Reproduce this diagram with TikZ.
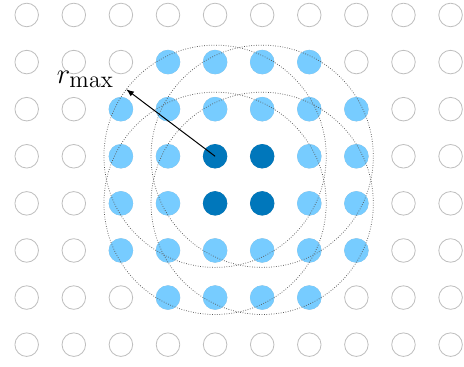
\documentclass[tikz,border=0pt]{standalone}
\usepackage{amsmath}
\usepackage{amssymb}
\usepackage{tikz}
\usepackage{xcolor}
\usetikzlibrary{arrows}

\definecolor{darkpt}{HTML}{0077BB}
\definecolor{lightpt}{HTML}{77CCFF}

\begin{document}
\begin{tikzpicture}[>=latex,
    pt/.style={circle, minimum size=0.5cm, inner sep=0pt, line width=0.5pt},
    emptypt/.style={pt, draw=gray!50},
    nearpt/.style={pt, fill=lightpt, draw=lightpt},
    centerpt/.style={pt, fill=darkpt, draw=darkpt},
    reach/.style={densely dotted, gray!70!black, line width=0.45pt}]

\useasboundingbox (-0.567,-7.47) rectangle (9.285,0.318);

% all grid points
\foreach \i in {0,...,9}
    \foreach \j in {0,...,7}
        \node[emptypt] (p-\i-\j) at (\i,-\j) {};

% points within reach
\foreach \i/\j in {3/1,4/1,5/1,6/1,
                   2/2,3/2,4/2,5/2,6/2,7/2,
                   2/3,3/3,6/3,7/3,
                   2/4,3/4,6/4,7/4,
                   2/5,3/5,4/5,5/5,6/5,7/5,
                   3/6,4/6,5/6,6/6}
    \node[nearpt] (n-\i-\j) at (p-\i-\j) {};

% centre points
\foreach \i/\j in {4/3,5/3,4/4,5/4}
    \node[centerpt] (c-\i-\j) at (p-\i-\j) {};

% search circles
\foreach \i/\j in {4/3,5/3,4/4,5/4}
    \draw[reach] (c-\i-\j.center) circle (2.36);

\path (c-4-3.center) ++(143:2.36) coordinate (rtip);
\draw[->, semithick] (c-4-3.center) -- (rtip)
    node[anchor=east, xshift=-4pt, yshift=6pt]{\fontsize{19}{22}\selectfont $r_{\max}$};

\end{tikzpicture}
\end{document}
